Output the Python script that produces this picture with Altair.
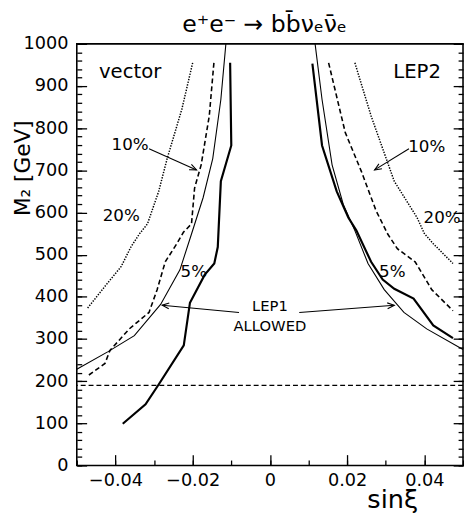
import math
import altair as alt
import pandas as pd

# curves (sin xi, M2 in GeV)
thin_left_x = [-0.0114, -0.0127, -0.0148, -0.0173, -0.0203, -0.0233, -0.0283, -0.0351, -0.0419, -0.0500]
thin_left_y = [1000, 868, 728, 635, 549, 464, 382, 308, 270, 228]
thin_right_x = [0.0117, 0.0135, 0.0161, 0.0190, 0.0220, 0.0254, 0.0296, 0.0347, 0.0406, 0.0500]
thin_right_y = [1000, 868, 713, 619, 557, 479, 417, 363, 324, 275]

thick_left_x = [-0.0103, -0.0100, -0.0127, -0.0135, -0.0144, -0.0169, -0.0207, -0.0223, -0.0288, -0.0322, -0.0381]
thick_left_y = [955, 759, 674, 518, 479, 452, 386, 285, 192, 145, 99]
thick_right_x = [0.0110, 0.0135, 0.0173, 0.0203, 0.0224, 0.0262, 0.0292, 0.0322, 0.0372, 0.0423, 0.0474]
thick_right_y = [953, 759, 650, 588, 557, 483, 441, 419, 396, 332, 302]

dashed_left_x = [-0.0145, -0.0157, -0.0178, -0.0195, -0.0203, -0.0224, -0.0241, -0.0271, -0.0292, -0.0313,
                 -0.0364, -0.0414, -0.0427, -0.0474]
dashed_left_y = [955, 829, 713, 658, 573, 553, 526, 483, 417, 363, 324, 273, 242, 211]
dashed_right_x = [0.0152, 0.0195, 0.0237, 0.0275, 0.0305, 0.0330, 0.0376, 0.0419, 0.0474]
dashed_right_y = [955, 790, 697, 604, 549, 514, 483, 417, 367]

dotted_left_x = [-0.0200, -0.0228, -0.0266, -0.0288, -0.0317, -0.0338, -0.0360, -0.0385, -0.0427, -0.0474]
dotted_left_y = [955, 845, 728, 650, 573, 549, 518, 472, 425, 371]
dotted_right_x = [0.0220, 0.0262, 0.0322, 0.0381, 0.0400, 0.0423, 0.0474]
dotted_right_y = [955, 829, 674, 588, 550, 526, 479]

hline_y = [190]

# arrows: tail (x1, y1) -> head (x2, y2)
arrow_x1 = [-0.0313, 0.0360, -0.0080, 0.0076]
arrow_y1 = [751, 751, 363, 363]
arrow_x2 = [-0.0190, 0.0271, -0.0279, 0.0322]
arrow_y2 = [701, 701, 380, 380]

title_text = ["e⁺e⁻ → bb̄νₑν̄ₑ"]
title_x = [-0.0014]
title_y = [1028]

big_text = ["vector", "LEP2"]
big_x = [-0.0362, 0.0381]
big_y = [918, 918]

pct_text = ["10%", "20%", "5%", "10%", "20%", "5%"]
pct_x = [-0.0362, -0.0385, -0.0197, 0.0406, 0.0446, 0.0317]
pct_y = [748, 580, 448, 744, 576, 448]

lep_text = ["LEP1", "ALLOWED"]
lep_x = [0.0, 0.0]
lep_y = [367, 320]

x_major = [-0.04, -0.02, 0.0, 0.02, 0.04]
x_minor = [-0.05, -0.04, -0.03, -0.02, -0.01, 0.0, 0.01, 0.02, 0.03, 0.04, 0.05]
y_major = [0, 100, 200, 300, 400, 500, 600, 700, 800, 900, 1000]
y_minor = list(range(0, 1001, 20))

W, H = 393, 429
FONT = "DejaVu Sans"


def curve(xs, ys, branch):
    return pd.DataFrame({"x": xs, "y": ys, "branch": branch, "i": range(len(xs))})


thin = pd.concat([curve(thin_left_x, thin_left_y, "L"), curve(thin_right_x, thin_right_y, "R")])
thick = pd.concat([curve(thick_left_x, thick_left_y, "L"), curve(thick_right_x, thick_right_y, "R")])
dashed = pd.concat([curve(dashed_left_x, dashed_left_y, "L"), curve(dashed_right_x, dashed_right_y, "R")])
dotted = pd.concat([curve(dotted_left_x, dotted_left_y, "L"), curve(dotted_right_x, dotted_right_y, "R")])

arrows = pd.DataFrame({"x1": arrow_x1, "y1": arrow_y1, "x2": arrow_x2, "y2": arrow_y2})
arrows["ang"] = [
    math.degrees(math.atan2(-(b2 - b1) * H / 1000, (a2 - a1) * W / 0.1)) % 360
    for a1, b1, a2, b2 in zip(arrow_x1, arrow_y1, arrow_x2, arrow_y2)
]

xs = alt.Scale(domain=[-0.05, 0.05], nice=False, zero=False)
ys = alt.Scale(domain=[0, 1000], nice=False, zero=False)


def tick_axis(orient, values, size, offset):
    # inward pointing ticks: an axis of the opposite side pushed across the plot
    return alt.Axis(orient=orient, offset=offset, values=values, tickSize=size,
                    tickColor="black", tickWidth=1.3, labels=False, domain=False,
                    grid=False, title="")


x_main = alt.Axis(orient="bottom", values=x_major, ticks=False, tickSize=0, domain=False, grid=False,
                  labelFont=FONT, labelFontSize=18, labelColor="black", labelPadding=6,
                  labelExpr="datum.value == 0 ? '0' : format(datum.value, '.2f')",
                  title="sinξ", titleFont=FONT, titleFontSize=26, titleFontWeight="normal",
                  titleColor="black", titleX=321, titleY=43, titleAlign="center",
                  titleBaseline="alphabetic")

y_main = alt.Axis(orient="left", values=y_major, ticks=False, tickSize=0, domain=False, grid=False,
                  labelFont=FONT, labelFontSize=18, labelColor="black", labelPadding=9, format="d",
                  title="M₂ [GeV]", titleFont=FONT, titleFontSize=22, titleFontWeight="normal",
                  titleColor="black", titleX=-55, titleY=126, titleAngle=270, titleAlign="center",
                  titleBaseline="middle")


def lines(df, xaxis, yaxis, **style):
    return alt.Chart(df).mark_line(color="black", **style).encode(
        x=alt.X("x:Q", scale=xs, axis=xaxis),
        y=alt.Y("y:Q", scale=ys, axis=yaxis),
        detail="branch:N",
        order="i:Q",
    )


thin_l = lines(thin, x_main, y_main, strokeWidth=1.1)
thick_l = lines(thick, tick_axis("top", x_major, 11, -H), tick_axis("right", y_major, 10, -W),
                strokeWidth=2.2)
dashed_l = lines(dashed, tick_axis("top", x_minor, 5.5, -H), tick_axis("right", y_minor, 5, -W),
                 strokeWidth=1.6, strokeDash=[5, 3])
dotted_l = lines(dotted, None, tick_axis("left", y_major, 10, -W),
                 strokeWidth=1.5, strokeDash=[1.4, 1.4])

hline = alt.Chart(pd.DataFrame({"y": hline_y})).mark_rule(
    color="black", strokeWidth=1.2, strokeDash=[5, 3]
).encode(y=alt.Y("y:Q", scale=ys, axis=tick_axis("left", y_minor, 5, -W)))

shafts = alt.Chart(arrows).mark_rule(color="black", strokeWidth=1.1).encode(
    x=alt.X("x1:Q", scale=xs, axis=None), y=alt.Y("y1:Q", scale=ys, axis=None),
    x2="x2:Q", y2="y2:Q",
)
heads = alt.Chart(arrows).mark_point(
    shape="M-1,-0.42L0,0L-1,0.42", filled=False, color="black", strokeWidth=1.1, size=196, opacity=1
).encode(
    x=alt.X("x2:Q", scale=xs, axis=None), y=alt.Y("y2:Q", scale=ys, axis=None),
    angle=alt.Angle("ang:Q", scale=None),
)


def labels(text, lx, ly, size):
    df = pd.DataFrame({"t": text, "x": lx, "y": ly})
    return alt.Chart(df).mark_text(font=FONT, fontSize=size, baseline="alphabetic",
                                   align="center", color="black").encode(
        x=alt.X("x:Q", scale=xs, axis=None), y=alt.Y("y:Q", scale=ys, axis=None), text="t:N")


chart = alt.layer(
    thin_l, thick_l, dashed_l, dotted_l, hline, shafts, heads,
    labels(title_text, title_x, title_y, 24),
    labels(big_text, big_x, big_y, 20),
    labels(pct_text, pct_x, pct_y, 17),
    labels(lep_text, lep_x, lep_y, 15),
).resolve_axis(x="independent", y="independent").properties(
    width=W, height=H,
    autosize=alt.AutoSizeParams(type="none"),
    padding={"left": 70, "top": 32, "right": 1, "bottom": 50},
).configure_view(stroke="black", strokeWidth=1.6)

chart.save("out.html", embed_options={"renderer": "svg", "actions": False})
